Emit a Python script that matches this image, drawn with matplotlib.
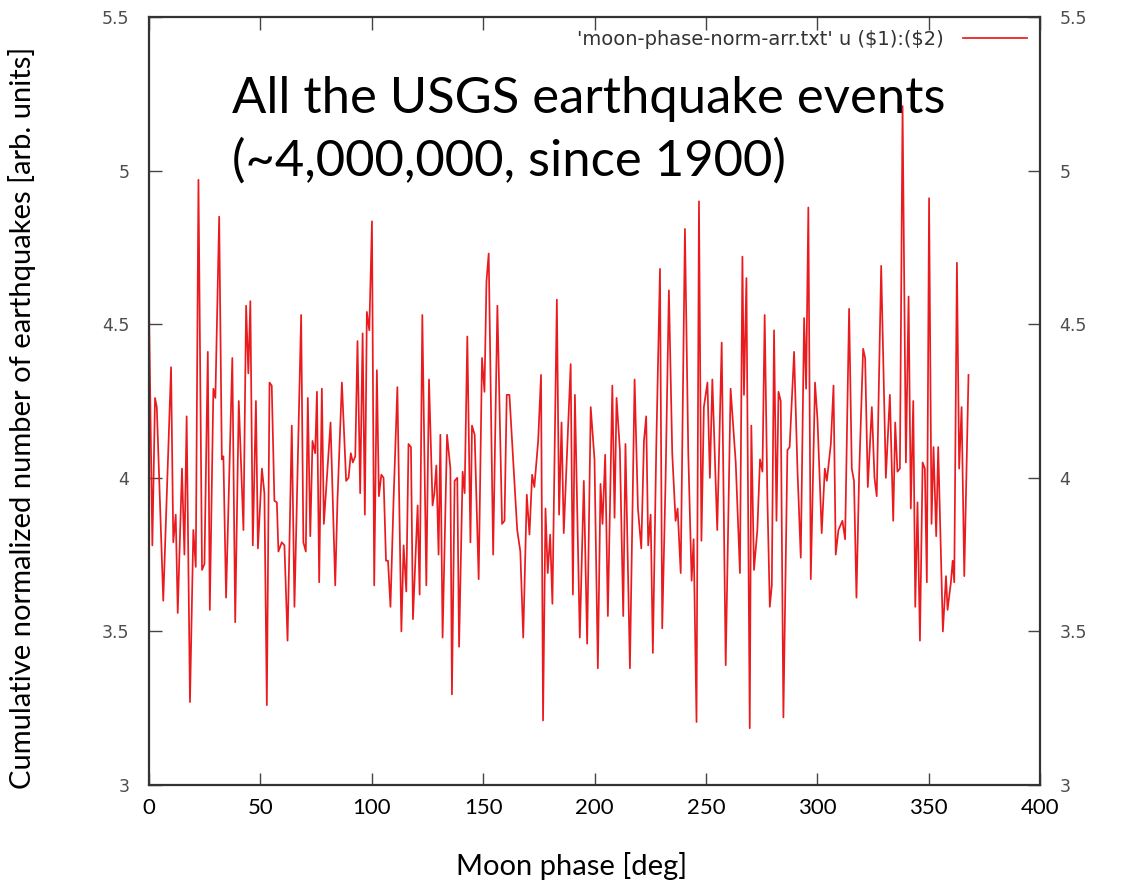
import matplotlib.pyplot as plt

# moon phase [deg] and normalized earthquake counts
phase = [0.0, 1.5, 2.7, 3.5, 6.4, 9.9, 10.9, 12.0, 12.9, 14.8, 15.9, 16.9, 18.4, 19.9, 21.0,
         22.2, 23.8, 24.9, 26.4, 27.3, 28.9, 29.8, 31.5, 32.7, 33.4, 34.6, 37.4, 38.7, 40.3,
         42.4, 43.6, 44.6, 45.5, 46.6, 48.0, 48.9, 50.7, 51.8, 52.9, 54.1, 55.1, 56.3, 57.4,
         58.1, 59.6, 60.8, 62.2, 64.1, 65.3, 68.3, 69.3, 70.4, 71.3, 72.4, 73.4, 74.6, 75.4,
         76.4, 77.6, 78.5, 81.5,
         83.6, 84.6, 86.6, 88.5, 89.6, 90.6, 91.5, 92.6, 93.6, 94.8, 95.9, 96.9, 97.8, 98.9,
         100.1, 101.1, 102.3, 103.2, 104.3, 105.3, 106.4, 107.3, 108.4, 109.8, 111.5, 113.3,
         114.3, 115.5, 116.5, 117.6, 118.5, 120.6, 121.5, 122.7, 124.5, 125.7,
         127.3, 128.1, 129.0, 130.0, 130.8, 131.8, 133.8, 135.3, 136.0, 137.2, 138.4, 139.2,
         140.8, 141.7, 142.9, 144.3, 145.0, 146.2, 148.0, 149.5, 150.6, 151.5, 152.5, 154.5,
         156.4, 158.5, 159.6, 160.6, 161.8, 165.3, 166.7, 168.0,
         169.6, 170.8, 172.0, 173.0, 174.7, 176.0, 176.9, 178.0, 179.0, 180.1, 181.1, 183.1,
         184.1, 185.2, 186.2, 189.3, 190.3, 191.2, 193.4, 195.2, 196.7, 198.3, 200.0, 201.5,
         202.7, 203.6, 204.8, 206.0, 208.0, 209.0, 209.9,
         211.4, 212.9, 213.9, 215.9, 218.0, 219.5, 221.0, 222.2, 223.2, 224.1, 225.2, 226.2,
         227.7, 229.4, 230.4, 231.9, 233.4, 234.9, 236.4, 237.3, 238.7, 240.6, 242.1, 243.6,
         244.5, 245.8, 246.9, 248.0, 249.1, 250.7, 251.8, 252.9,
         255.1, 257.1, 258.9, 261.1, 263.4, 265.3, 266.4, 267.1, 268.2, 269.7, 270.4, 271.6,
         273.1, 274.3, 275.4, 276.4, 277.6, 278.7, 279.6, 280.6, 281.7, 282.6, 283.6, 284.8,
         286.6, 287.6, 289.6, 291.1, 292.6, 294.1, 295.0, 296.0,
         297.1, 299.0, 300.1, 302.0, 303.4, 304.3, 306.1, 307.3, 308.3, 309.5, 311.3, 312.5,
         314.3, 315.5, 316.5, 317.6, 318.8, 320.6, 321.5, 322.7, 324.5, 325.7, 326.7, 328.7,
         330.8, 332.6, 334.1, 335.0, 336.0, 337.1, 338.3,
         339.8, 341.0, 342.0, 343.1, 344.0, 345.0, 346.1, 347.3, 348.3, 349.2, 350.2, 351.3,
         352.2, 353.4, 354.3, 355.5, 356.4, 357.8, 358.5, 360.0, 360.8, 361.5, 362.7, 363.7,
         364.8, 366.0, 367.9]

counts = [4.55, 3.78, 4.26, 4.23, 3.60, 4.36, 3.79, 3.88, 3.56, 4.03, 3.75, 4.20, 3.27, 3.83, 3.71,
          4.97, 3.70, 3.72, 4.41, 3.57, 4.29, 4.26, 4.85, 4.06, 4.07, 3.61, 4.39, 3.53, 4.25,
          3.83, 4.56, 4.34, 4.575, 3.78, 4.25, 3.77, 4.03, 3.95, 3.26, 4.31, 4.30, 3.925, 3.92,
          3.76, 3.79, 3.78, 3.47, 4.17, 3.58, 4.53, 3.79, 3.76, 4.26, 3.81, 4.12, 4.08, 4.28,
          3.66, 4.29, 3.85, 4.18,
          3.65, 3.925, 4.31, 3.99, 4.00, 4.08, 4.05, 4.07, 4.445, 3.95, 4.47, 3.88, 4.54, 4.48,
          4.835, 3.65, 4.35, 3.94, 4.01, 4.00, 3.73, 3.73, 3.58, 3.93, 4.295, 3.50,
          3.78, 3.63, 4.11, 4.10, 3.54, 3.91, 3.62, 4.53, 3.65, 4.32,
          3.91, 3.95, 4.04, 3.75, 4.14, 3.48, 4.14, 4.03, 3.295, 3.99, 4.00, 3.45,
          4.02, 3.95, 4.46, 3.79, 4.17, 4.14, 3.67, 4.39, 4.28, 4.64, 4.73, 3.75,
          4.56, 3.85, 3.86, 4.27, 4.27, 3.83, 3.76, 3.48,
          3.945, 3.815, 4.01, 3.97, 4.12, 4.335, 3.21, 3.90, 3.69, 3.815, 3.59, 4.58,
          3.88, 4.18, 3.82, 4.37, 3.62, 4.27, 3.48, 3.99, 3.46, 4.23, 4.06, 3.38,
          3.98, 3.85, 4.075, 3.55, 4.30, 3.87, 4.26,
          4.09, 3.55, 4.11, 3.38, 4.32, 3.90, 3.77, 4.12, 4.20, 3.78, 3.88, 3.43,
          4.09, 4.68, 3.51, 3.99, 4.61, 4.08, 3.86, 3.90, 3.69, 4.81, 4.08, 3.665,
          3.80, 3.205, 4.90, 3.795, 4.23, 4.31, 4.00, 4.32,
          3.83, 4.44, 3.39, 4.29, 4.05, 3.69, 4.72, 4.27, 4.65, 3.185, 4.17, 3.70,
          3.83, 4.06, 4.02, 4.53, 3.94, 3.58, 3.65, 4.48, 3.86, 4.28, 4.25, 3.22,
          4.09, 4.10, 4.41, 4.03, 3.74, 4.52, 4.29, 4.88,
          3.67, 4.31, 4.19, 3.82, 4.03, 3.99, 4.11, 4.30, 3.75, 3.83, 3.86, 3.80,
          4.55, 4.03, 3.99, 3.61, 4.01, 4.42, 4.39, 3.97, 4.23, 4.00, 3.94, 4.69,
          4.00, 4.27, 3.86, 4.18, 4.02, 4.03, 5.21,
          4.05, 4.59, 3.90, 4.25, 3.58, 3.92, 3.47, 4.05, 4.03, 3.66, 4.91, 3.85,
          4.10, 3.81, 4.10, 3.75, 3.50, 3.68, 3.57, 3.66, 3.73, 3.66, 4.70, 4.03,
          4.23, 3.68, 4.335]

x_ticks = [0, 50, 100, 150, 200, 250, 300, 350, 400]
y_ticks = [3, 3.5, 4, 4.5, 5, 5.5]
y_tick_labels = ["3", "3.5", "4", "4.5", "5", "5.5"]

fig = plt.figure(figsize=(11.22, 8.85), dpi=100)
ax = fig.add_axes([149 / 1122, 1 - 785 / 885, (1040 - 149) / 1122, (785 - 17) / 885])

ax.plot(phase, counts, color='#ea1b1f', lw=1.25,
        label="'moon-phase-norm-arr.txt' u (\\$1):(\\$2)")

ax.set_xlim(0, 400)
ax.set_ylim(3, 5.5)
ax.set_xticks(x_ticks)
ax.set_yticks(y_ticks)
ax.set_yticklabels(y_tick_labels)

for s in ax.spines.values():
    s.set_linewidth(1.6)
    s.set_color('#333333')

ax.tick_params(direction='in', top=True, right=True, length=9, width=1, color='#444444')
ax.tick_params(axis='y', labelright=True, labelsize=12.5, labelcolor='#4d4d4d', pad=14)
ax.tick_params(axis='x', labelsize=16, pad=9)
for lbl in ax.get_xticklabels():
    lbl.set_family('Lato')

leg = ax.legend(loc='upper right', frameon=False, markerfirst=False, handlelength=3.3,
                handletextpad=1.0, fontsize=14, borderaxespad=0.25)
for t in leg.get_texts():
    t.set_color('#333333')

fig.text(232 / 1122, 1 - 76 / 885, "All the USGS earthquake events\n(~4,000,000, since 1900)",
         ha='left', va='top', fontsize=36.5, family='Lato', linespacing=1.42)

fig.text(22 / 1122, 1 - 418 / 885, "Cumulative normalized number of earthquakes [arb. units]",
         rotation=90, ha='center', va='center', fontsize=21, family='Lato')
fig.text(572 / 1122, 1 - 866 / 885, "Moon phase [deg]",
         ha='center', va='center', fontsize=21, family='Lato')

fig.savefig('out.png', dpi=100)
